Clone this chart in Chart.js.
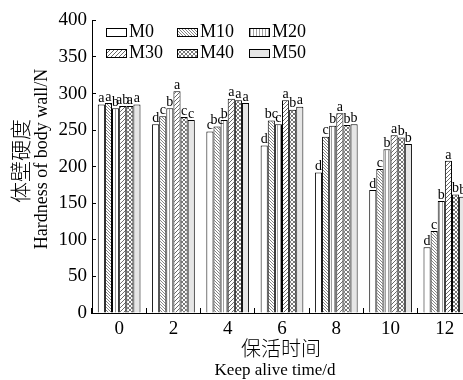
<!DOCTYPE html>
<html><head><meta charset="utf-8">
<script src="https://cdn.jsdelivr.net/npm/chart.js@4.4.0/dist/chart.umd.min.js"></script>
<style>
html,body{margin:0;padding:0;background:#fff;overflow:hidden;width:463px;height:380px}
#wrap{position:absolute;left:0;top:0;width:480px;height:380px}
</style>
</head><body><div id="wrap"><canvas id="c" width="480" height="380"></canvas></div>
<script>
// ---- data ----
const categories = ['0', '2', '4', '6', '8', '10', '12'];
const seriesNames = ['M0', 'M10', 'M20', 'M30', 'M40', 'M50'];
const M0  = [285, 258, 248, 229, 192, 168, 90];
const M10 = [287, 269, 255, 263, 241, 197, 112];
const M20 = [280, 280, 264, 258, 256, 224, 153];
const M30 = [283, 303, 293, 291, 273, 243, 208];
const M40 = [283, 268, 291, 278, 257, 240, 162];
const M50 = [285, 264, 287, 282, 258, 231, 159];
const sigM0  = ['a', 'd', 'c', 'd', 'd', 'd', 'd'];
const sigM10 = ['a', 'c', 'bc', 'bc', 'c', 'c', 'c'];
const sigM20 = ['b', 'b', 'b', 'c', 'b', 'b', 'b'];
const sigM30 = ['ab', 'a', 'a', 'a', 'a', 'a', 'a'];
const sigM40 = ['a', 'c', 'a', 'b', 'b', 'b', 'b'];
const sigM50 = ['a', 'c', 'a', 'a', 'b', 'b', 'b'];
const yTicks = [0, 50, 100, 150, 200, 250, 300, 350, 400];
const yTitleCN = '体壁硬度';
const yTitleEN = 'Hardness of body wall/N';
const xTitleCN = '保活时间';
const xTitleEN = 'Keep alive time/d';

const seriesValues = [M0, M10, M20, M30, M40, M50];
const seriesSig = [sigM0, sigM10, sigM20, sigM30, sigM40, sigM50];

// ---- patterns ----
function makePattern(kind) {
  const c = document.createElement('canvas');
  const ctx = c.getContext('2d');
  let s = 4;
  if (kind === 'back') s = 3;
  if (kind === 'vert') s = 3;
  if (kind === 'slash') s = 4;
  if (kind === 'cross') s = 4;
  c.width = s; c.height = s;
  ctx.fillStyle = kind === 'gray' ? '#e6e6e6' : '#ffffff';
  ctx.fillRect(0, 0, s, s);
  if (kind === 'white' || kind === 'gray') return ctx.createPattern(c, 'repeat');
  if (kind === 'vert') {
    ctx.fillStyle = '#a0a0a0';
    ctx.fillRect(1, 0, 1, s);
    return ctx.createPattern(c, 'repeat');
  }
  ctx.strokeStyle = kind === 'back' ? '#666' : (kind === 'slash' ? '#444' : '#555');
  ctx.lineWidth = 0.8;
  ctx.beginPath();
  if (kind === 'back' || kind === 'cross') {
    for (const k of [-s, 0, s]) { ctx.moveTo(k, 0); ctx.lineTo(k + s, s); }
  }
  if (kind === 'slash' || kind === 'cross') {
    for (const k of [-s, 0, s]) { ctx.moveTo(k + s, 0); ctx.lineTo(k, s); }
  }
  ctx.stroke();
  return ctx.createPattern(c, 'repeat');
}
const fills = ['white', 'back', 'vert', 'slash', 'cross', 'gray'].map(makePattern);

const SERIF = '"Liberation Serif", "Times New Roman", serif';
const CJK = '"Noto Sans CJK SC", sans-serif';

const sigPlugin = {
  id: 'sig',
  afterDatasetsDraw(chart) {
    const ctx = chart.ctx;
    ctx.save();
    ctx.font = '14px ' + SERIF;
    ctx.fillStyle = '#000';
    ctx.textAlign = 'center';
    ctx.textBaseline = 'bottom';
    chart.data.datasets.forEach((ds, i) => {
      chart.getDatasetMeta(i).data.forEach((bar, j) => {
        ctx.fillText(seriesSig[i][j], bar.x, bar.y + 1);
      });
    });
    ctx.restore();
  }
};

const legendPlugin = {
  id: 'customLegend',
  afterDraw(chart) {
    const ctx = chart.ctx;
    ctx.save();
    const colX = [106, 177, 249];
    const rowY = [28, 49];
    ctx.font = '18px ' + SERIF;
    ctx.textBaseline = 'alphabetic';
    ctx.textAlign = 'left';
    seriesNames.forEach((name, i) => {
      const x = colX[i % 3], y = rowY[Math.floor(i / 3)];
      ctx.fillStyle = fills[i];
      ctx.fillRect(x, y, 20, 8);
      ctx.strokeStyle = '#000';
      ctx.lineWidth = 1;
      ctx.strokeRect(x + 0.5, y + 0.5, 20, 8);
      ctx.fillStyle = '#000';
      ctx.fillText(name, x + 23, y + 8.5);
    });
    ctx.restore();
  }
};

const titlePlugin = {
  id: 'axisTitles',
  afterDraw(chart) {
    const ctx = chart.ctx;
    ctx.save();
    ctx.fillStyle = '#000';
    ctx.textAlign = 'center';
    ctx.textBaseline = 'middle';
    ctx.save();
    ctx.translate(20, 161);
    ctx.rotate(-Math.PI / 2);
    ctx.font = '300 21px ' + CJK;
    ctx.fillText(yTitleCN, 0, 0);
    ctx.restore();
    ctx.save();
    ctx.translate(42, 159);
    ctx.rotate(-Math.PI / 2);
    ctx.font = '18px ' + SERIF;
    ctx.fillText(yTitleEN, 0, 0);
    ctx.restore();
    ctx.font = '300 20px ' + CJK;
    ctx.fillText(xTitleCN, 281, 348);
    ctx.font = '17px ' + SERIF;
    ctx.fillText(xTitleEN, 275, 371);
    ctx.restore();
  }
};

new Chart(document.getElementById('c'), {
  type: 'bar',
  data: {
    labels: categories,
    datasets: seriesNames.map((n, i) => ({
      label: n,
      data: seriesValues[i],
      backgroundColor: fills[i],
      borderColor: '#000',
      borderWidth: 1,
      barPercentage: 1,
      categoryPercentage: 0.787
    }))
  },
  options: {
    responsive: false,
    devicePixelRatio: 1,
    animation: false,
    layout: { padding: { top: 16, right: 8, left: 0, bottom: 0 } },
    plugins: { legend: { display: false }, tooltip: { enabled: false } },
    scales: {
      x: {
        offset: true,
        grid: { display: true, offset: true, drawOnChartArea: false, drawTicks: true, tickLength: -5, color: '#000', lineWidth: 1 },
        border: { display: true, color: '#000', width: 1 },
        ticks: { font: { family: SERIF, size: 19 }, color: '#000', padding: 10, maxRotation: 0, autoSkip: false },
        afterFit: s => { s.height = 67; }
      },
      y: {
        min: 0, max: 400,
        afterBuildTicks: s => { s.ticks = yTicks.map(v => ({ value: v })); },
        grid: { display: true, drawOnChartArea: false, drawTicks: true, tickLength: -4, color: '#000', lineWidth: 1 },
        border: { display: true, color: '#000', width: 1 },
        ticks: { font: { family: SERIF, size: 19 }, color: '#000', padding: 9 },
        afterFit: s => { s.width = 92; }
      }
    }
  },
  plugins: [sigPlugin, legendPlugin, titlePlugin]
});
</script>
</body></html>
